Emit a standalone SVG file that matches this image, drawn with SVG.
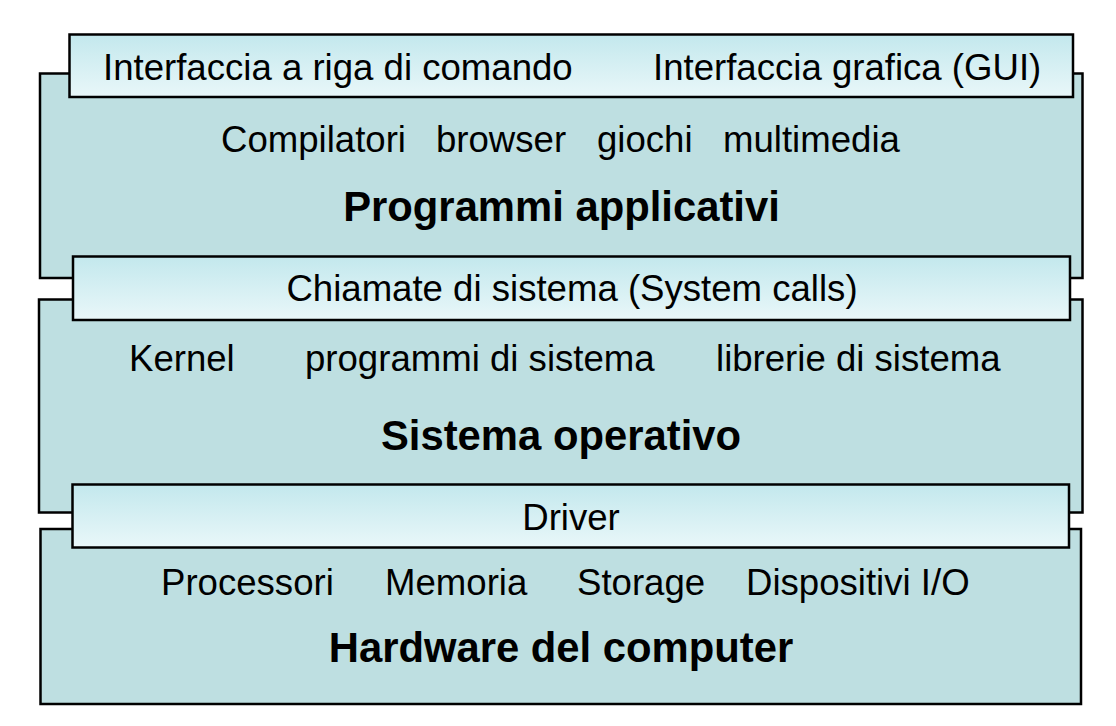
<svg xmlns="http://www.w3.org/2000/svg" width="1116" height="726" viewBox="0 0 1116 726">
<style>
.box{fill:#bedfe1;stroke:#000;stroke-width:2.5}
.bar{fill:url(#g);stroke:#000;stroke-width:2.5}
text{font-family:"Liberation Sans",Arial,sans-serif;font-size:36.6px;fill:#000}
.t{font-weight:bold;font-size:41.8px;text-anchor:middle}
.c{text-anchor:middle}
</style>
<defs>
<linearGradient id="g" x1="0" y1="0" x2="0" y2="1">
<stop offset="0" stop-color="#c3e8ed"/>
<stop offset="1" stop-color="#e9f7f9"/>
</linearGradient>
</defs>
<rect width="1116" height="726" fill="#fff"/>
<g id="applicativi">
<rect class="box" x="40" y="73.5" width="1042.5" height="204.5"/>
<text x="221" y="152">Compilatori</text>
<text x="436" y="152">browser</text>
<text x="597" y="152">giochi</text>
<text x="723" y="152">multimedia</text>
<text class="t" x="561.5" y="221">Programmi applicativi</text>
</g>
<g id="sistema">
<rect class="box" x="39" y="299.5" width="1043.5" height="213"/>
<text x="129" y="371">Kernel</text>
<text x="305" y="371">programmi di sistema</text>
<text x="716" y="371">librerie di sistema</text>
<text class="t" x="561" y="450">Sistema operativo</text>
</g>
<g id="hardware">
<rect class="box" x="40.5" y="529" width="1040.5" height="175"/>
<text x="161" y="595">Processori</text>
<text x="385" y="595">Memoria</text>
<text x="577" y="595">Storage</text>
<text x="746" y="595">Dispositivi I/O</text>
<text class="t" x="561" y="662">Hardware del computer</text>
</g>
<g id="interfacce">
<rect class="bar" x="69.5" y="34.5" width="1003.5" height="62.5"/>
<text x="103" y="80">Interfaccia a riga di comando</text>
<text x="653" y="80">Interfaccia grafica (GUI)</text>
</g>
<g id="syscalls">
<rect class="bar" x="73" y="256.5" width="997" height="63.5"/>
<text class="c" x="572" y="301">Chiamate di sistema (System calls)</text>
</g>
<g id="driver">
<rect class="bar" x="72.5" y="484.5" width="996.5" height="63"/>
<text class="c" x="571" y="530">Driver</text>
</g>
<g id="connectors"/>
</svg>
